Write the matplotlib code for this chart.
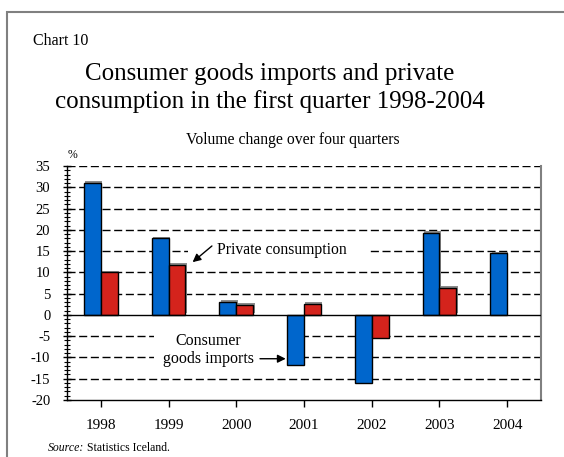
import numpy as np
import matplotlib
matplotlib.use("Agg")
import matplotlib.pyplot as plt
from matplotlib.patches import Rectangle

plt.rcParams['font.family'] = ['Liberation Serif', 'DejaVu Serif']
plt.rcParams['axes.unicode_minus'] = False

years = ['1998', '1999', '2000', '2001', '2002', '2003', '2004']
imports = [31.0, 18.0, 3.0, -11.8, -16.0, 19.3, 14.5]
consumption = [10.0, 11.7, 2.4, 2.6, -5.5, 6.3, np.nan]

blue = '#0066cc'
red = '#d4231c'
shade = '#8c8c8c'

fig = plt.figure(figsize=(5.64, 4.57), dpi=100)
ax = fig.add_axes([67 / 564, 1 - 400 / 457, 474 / 564, 234 / 457])

x = np.arange(len(years))
w = 0.25

# grey drop shadow behind each bar (raised only for positive bars)
for xs, vals in ((x - w / 2, imports), (x + w / 2, consumption)):
    vals = np.array(vals)
    lift = np.where(vals > 0, 0.4, 0.0)
    ax.bar(xs + 0.02, vals, w, bottom=lift, color=shade, linewidth=0, zorder=2)

ax.bar(x - w / 2, imports, w, color=blue, edgecolor='black', linewidth=1, zorder=3)
ax.bar(x + w / 2, consumption, w, color=red, edgecolor='black', linewidth=1, zorder=3)

# dashed reference lines
for lvl in [35, 30, 25, 20, 15, 10, 5, -5, -10, -15]:
    ax.axhline(lvl, color='black', lw=1, ls=(0, (5.8, 2.6)), zorder=1)
ax.axhline(0, color='black', lw=1, zorder=4)

# blank out the grid behind the labels
ax.add_patch(Rectangle((1.28, 13.5), 2.7, 3.0, fc='white', ec='none', zorder=1.5))
ax.add_patch(Rectangle((0.78, -11.5), 1.95, 8.0, fc='white', ec='none', zorder=1.5))

ax.set_xlim(-0.5, 6.5)
ax.set_ylim(-20, 35)
ax.set_yticks(np.arange(-20, 36, 5))
ax.set_yticks(np.arange(-20, 36, 1), minor=True)
ax.set_xticks(x)
ax.set_xticklabels(years)
ax.tick_params(axis='y', which='major', direction='inout', length=6, width=1, labelsize=10.5, pad=9)
ax.tick_params(axis='y', which='minor', direction='inout', length=4, width=0.8)
ax.tick_params(axis='x', which='major', direction='out', length=5, width=1, labelsize=11, pad=9)

ax.spines['top'].set_visible(False)
ax.spines['right'].set_color('#808080')
ax.spines['right'].set_linewidth(1.5)
ax.spines['left'].set_linewidth(1)
ax.spines['bottom'].set_linewidth(1)

ax.text(1.72, 15.3, 'Private consumption', fontsize=11.3, va='center', ha='left', zorder=5)
ax.annotate('', xy=(1.355, 12.4), xytext=(1.64, 16.2),
            arrowprops=dict(arrowstyle='-|>', color='black', lw=1, shrinkA=0, shrinkB=0,
                            mutation_scale=12),
            zorder=5)
ax.text(1.59, -8.2, 'Consumer\ngoods imports', fontsize=11.5, va='center', ha='center',
        linespacing=1.15, zorder=5)
ax.annotate('', xy=(2.73, -10.3), xytext=(2.35, -10.3),
            arrowprops=dict(arrowstyle='-|>', color='black', lw=1, shrinkA=0, shrinkB=0,
                            mutation_scale=12),
            zorder=5)

fig.text(33 / 564, 1 - 41 / 457, 'Chart 10', fontsize=11.5, va='center', ha='left')
fig.text(270 / 564, 1 - 88 / 457,
         'Consumer goods imports and private\nconsumption in the first quarter 1998-2004',
         fontsize=18, ha='center', va='center', linespacing=1.3)
fig.text(293 / 564, 1 - 140 / 457, 'Volume change over four quarters',
         fontsize=11.3, ha='center', va='center')
fig.text(68 / 564, 1 - 155 / 457, '%', fontsize=8.5, ha='left', va='center')
src = fig.text(48 / 564, 1 - 448 / 457, 'Source:', fontsize=8.5, style='italic',
               ha='left', va='center')
fig.canvas.draw()
bb = src.get_window_extent()
fig.text((bb.x1 + 3) / 564, 1 - 448 / 457, 'Statistics Iceland.', fontsize=8.5,
         ha='left', va='center')

# outer frame
fig.patches.append(Rectangle((7 / 564, -0.1), 1.2, 1.1 - 12 / 457,
                             transform=fig.transFigure, fill=False,
                             edgecolor='#808080', lw=1.5))

fig.savefig('out.png', dpi=100)
